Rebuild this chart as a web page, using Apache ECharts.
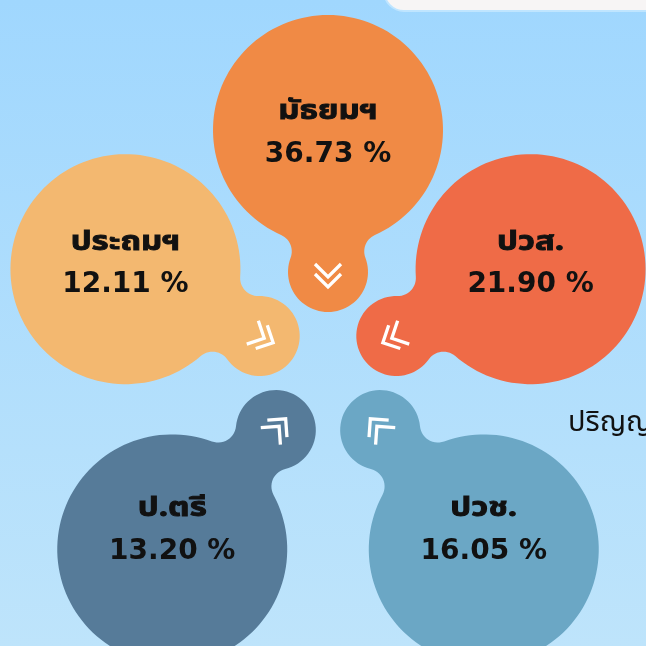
<!DOCTYPE html>
<html>
<head>
<meta charset="utf-8">
<script src="https://cdn.jsdelivr.net/npm/echarts@6/dist/echarts.min.js"></script>
<style>
  html, body { margin: 0; padding: 0; }
  #chart { width: 646px; height: 646px; }
</style>
</head>
<body>
<div id="chart"></div>
<script>
// ข้อมูล: ระดับการศึกษา และสัดส่วน (%)
const levels = ['มัธยมฯ', 'ปวส.', 'ปวช.', 'ป.ตรี', 'ประถมฯ']
const shares = [36.73, 21.90, 16.05, 13.20, 12.11]

// layout only
const colors = ['#F08A45', '#EF6B47', '#6BA7C5', '#567B99', '#F3B870']
const petalReach = [205, 213, 265, 265, 213]
const lobeDist = [142, 150, 158, 158, 150]
const labelLift = [-3, 6, 20, 20, 6]
const bigR = 115
const smallR = 40
const neckR = 18
const aimDrop = 35
const thaiFont = "'Noto Sans Thai', 'Noto Sans', 'DejaVu Sans', sans-serif"

function blobPoints (B, S, R, r, f) {
  const dx = S[0] - B[0]
  const dy = S[1] - B[1]
  const d = Math.hypot(dx, dy)
  const a = Math.atan2(dy, dx)
  const ux = dx / d, uy = dy / d, vx = -uy, vy = ux
  const xf = ((R + f) ** 2 - (r + f) ** 2 + d * d) / (2 * d)
  const yf = Math.sqrt((R + f) ** 2 - xf * xf)
  const Fp = [B[0] + xf * ux + yf * vx, B[1] + xf * uy + yf * vy]
  const Fm = [B[0] + xf * ux - yf * vx, B[1] + xf * uy - yf * vy]
  const beta = Math.atan2(yf, xf)
  const delta = Math.atan2(yf, xf - d)
  const pts = []
  const arc = (c, rad, a0, a1, n) => {
    for (let k = 0; k <= n; k++) {
      const t = a0 + (a1 - a0) * k / n
      pts.push([c[0] + rad * Math.cos(t), c[1] + rad * Math.sin(t)])
    }
  }
  const ang = (p, c) => Math.atan2(p[1] - c[1], p[0] - c[0])
  const short = (x) => {
    while (x > Math.PI) x -= 2 * Math.PI
    while (x < -Math.PI) x += 2 * Math.PI
    return x
  }
  arc(B, R, a + beta, a + 2 * Math.PI - beta, 120)
  const f0 = ang(B, Fm)
  arc(Fm, f, f0, f0 + short(ang(S, Fm) - f0), 14)
  arc(S, r, a - delta, a + delta, 50)
  const g0 = ang(S, Fp)
  arc(Fp, f, g0, g0 + short(ang(B, Fp) - g0), 14)
  return pts
}

function renderPetal (params, api) {
  const i = params.dataIndex
  const C = api.coord([0, 0])
  const B = api.coord([api.value(0), api.value(1)])
  const aim = [C[0], C[1] + aimDrop]
  const ax = aim[0] - B[0], ay = aim[1] - B[1]
  const al = Math.hypot(ax, ay)
  const ux = ax / al, uy = ay / al, vx = -uy, vy = ux
  const S = [B[0] + ux * lobeDist[i], B[1] + uy * lobeDist[i]]

  const chevrons = [5, 15].map(t => {
    const h = 13
    const V = [S[0] + ux * t, S[1] + uy * t]
    return {
      type: 'polyline',
      shape: {
        points: [
          [V[0] - ux * h + vx * h, V[1] - uy * h + vy * h],
          V,
          [V[0] - ux * h - vx * h, V[1] - uy * h - vy * h]
        ]
      },
      style: { stroke: '#ffffff', lineWidth: 3.3, fill: null, lineJoin: 'miter' }
    }
  })

  return {
    type: 'group',
    children: [
      {
        type: 'polygon',
        shape: { points: blobPoints(B, S, bigR, smallR, neckR) },
        style: { fill: colors[i] }
      },
      ...chevrons,
      {
        type: 'text',
        x: B[0],
        y: B[1] - 19 - labelLift[i],
        scaleX: 1.22,
        style: {
          text: levels[i],
          fill: '#111111',
          stroke: '#111111',
          lineWidth: 0.9,
          fontSize: 27,
          fontWeight: 'bold',
          fontFamily: thaiFont,
          align: 'center',
          verticalAlign: 'middle'
        }
      },
      {
        type: 'text',
        x: B[0],
        y: B[1] + 22 - labelLift[i],
        style: {
          text: shares[i].toFixed(2) + ' %',
          fill: '#111111',
          fontSize: 28,
          fontWeight: 'bold',
          fontFamily: "'DejaVu Sans', sans-serif",
          align: 'center',
          verticalAlign: 'middle'
        }
      }
    ]
  }
}

const chart = echarts.init(document.getElementById('chart'))
chart.setOption({
  animation: false,
  backgroundColor: {
    type: 'linear', x: 0, y: 0, x2: 0, y2: 1,
    colorStops: [
      { offset: 0, color: '#A0D7FE' },
      { offset: 1, color: '#BEE4FB' }
    ]
  },
  polar: { center: [328, 335], radius: 265 },
  angleAxis: {
    type: 'category',
    data: levels,
    boundaryGap: false,
    startAngle: 90,
    clockwise: true,
    show: false
  },
  radiusAxis: { type: 'value', min: 0, max: 265, show: false },
  graphic: [
    {
      type: 'rect',
      left: 383,
      top: -30,
      shape: { width: 300, height: 40, r: 22 },
      style: { fill: '#F7F5F5', stroke: '#BFE5FF', lineWidth: 2 }
    },
    {
      type: 'text',
      left: 568,
      top: 411,
      style: {
        text: 'ปริญญา',
        fill: '#111111',
        fontSize: 29,
        fontFamily: thaiFont
      }
    }
  ],
  series: [
    {
      type: 'custom',
      coordinateSystem: 'polar',
      renderItem: renderPetal,
      data: levels.map((name, i) => [petalReach[i], name, shares[i]])
    }
  ]
})
window.addEventListener('resize', () => {
  chart.resize()
})
</script>
</body>
</html>
